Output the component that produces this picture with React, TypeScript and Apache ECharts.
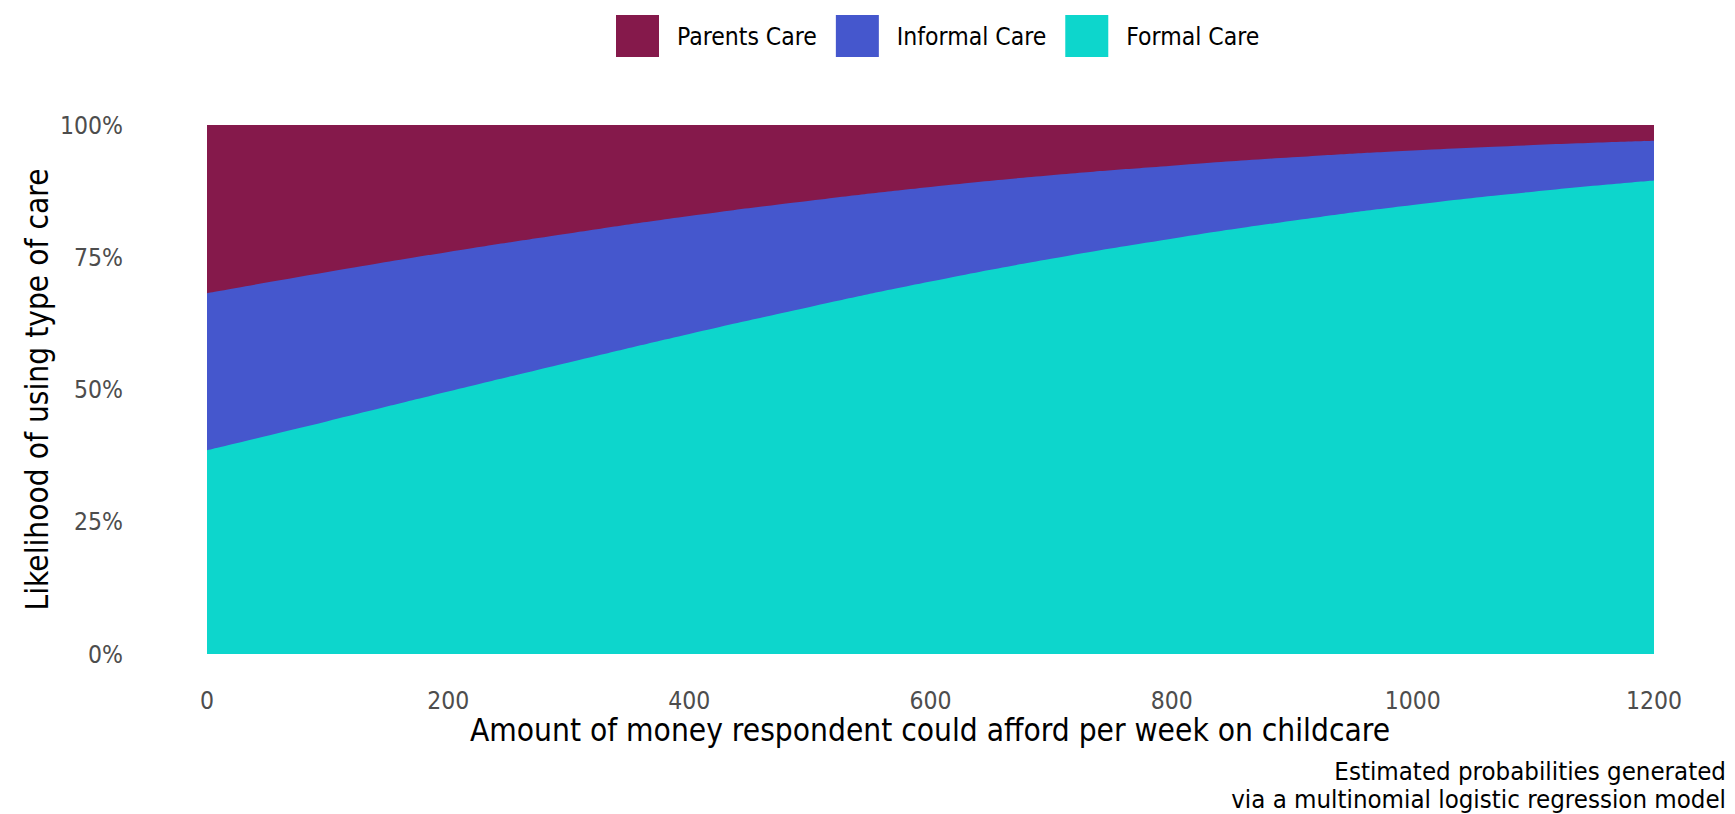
import React, { useEffect, useRef } from "react";
import * as echarts from "echarts";

const xValues = [0, 100, 200, 300, 400, 500, 600, 700, 800, 900, 1000, 1100, 1200];
const formalCare = [38.5, 44.0, 49.6, 55.1, 60.5, 65.6, 70.4, 74.7, 78.5, 81.9, 84.9, 87.4, 89.5];
const informalCare = [29.7, 28.2, 26.4, 24.4, 22.3, 20.1, 17.9, 15.8, 13.8, 12.0, 10.3, 8.8, 7.5];
const parentsCare = [31.8, 27.8, 24.0, 20.5, 17.2, 14.3, 11.7, 9.5, 7.7, 6.1, 4.8, 3.8, 3.0];
const xTicks = [0, 200, 400, 600, 800, 1000, 1200];
const yTicks = [0, 25, 50, 75, 100];

const FONT = "'DejaVu Sans Condensed', 'DejaVu Sans', sans-serif";
const COLORS = { parents: "#85194B", informal: "#4557CD", formal: "#0DD6CC" };

export default function App() {
  const ref = useRef<HTMLDivElement>(null);
  useEffect(() => {
    if (!ref.current) return;
    const chart = echarts.init(ref.current, undefined, { renderer: "svg" });
    // cumulative tops of each band (stacked from the bottom: formal, informal, parents)
    const cumFormal = formalCare.map((v) => v);
    const cumInformal = formalCare.map((v, i) => v + informalCare[i]);
    const cumParents = formalCare.map((v, i) => v + informalCare[i] + parentsCare[i]);
    const mk = (name: string, vals: number[], color: string, z: number) => ({
      name,
      type: "line",
      smooth: true,
      showSymbol: false,
      symbol: "none",
      z,
      lineStyle: { width: 0 },
      itemStyle: { color },
      areaStyle: { color, opacity: 1, origin: "start" },
      data: xValues.map((x, i) => [x, vals[i]]),
    });
    chart.setOption({
      animation: false,
      textStyle: { fontFamily: FONT },
      legend: {
        data: ["Parents Care", "Informal Care", "Formal Care"],
        left: 611,
        top: 10,
        icon: "rect",
        itemWidth: 43,
        itemHeight: 42,
        itemGap: 19,
        textStyle: { fontSize: 24.5, color: "#000", fontFamily: FONT, padding: [0, 0, 0, 13] },
      },
      grid: { left: 207, right: 81, top: 125, bottom: 160, containLabel: false },
      xAxis: {
        type: "value",
        min: xTicks[0],
        max: xTicks[xTicks.length - 1],
        interval: 200,
        axisLine: { show: false },
        axisTick: { show: false },
        splitLine: { show: false },
        axisLabel: {
          color: "#4D4D4D",
          fontSize: 24.5,
          margin: 34,
          fontFamily: FONT,
          formatter: (v: number) => String(v),
        },
      },
      yAxis: {
        type: "value",
        min: yTicks[0],
        max: yTicks[yTicks.length - 1],
        interval: 25,
        axisLine: { show: false },
        axisTick: { show: false },
        splitLine: { show: false },
        axisLabel: { color: "#4D4D4D", fontSize: 24.5, margin: 84, formatter: "{value}%", fontFamily: FONT },
      },
      graphic: [
        {
          type: "text",
          x: 930,
          y: 730,
          style: {
            text: "Amount of money respondent could afford per week on childcare",
            fontSize: 31.4,
            fontFamily: FONT,
            fill: "#000",
            align: "center",
            verticalAlign: "middle",
          },
        },
        {
          type: "text",
          x: 37,
          y: 389.5,
          rotation: Math.PI / 2,
          style: {
            text: "Likelihood of using type of care",
            fontSize: 31.4,
            fontFamily: FONT,
            fill: "#000",
            align: "center",
            verticalAlign: "middle",
          },
        },
        {
          type: "text",
          x: 1726,
          y: 771,
          style: {
            text: "Estimated probabilities generated",
            fontSize: 25.6,
            fontFamily: FONT,
            fill: "#000",
            align: "right",
            verticalAlign: "middle",
          },
        },
        {
          type: "text",
          x: 1726,
          y: 799,
          style: {
            text: "via a multinomial logistic regression model",
            fontSize: 25.6,
            fontFamily: FONT,
            fill: "#000",
            align: "right",
            verticalAlign: "middle",
          },
        },
      ],
      series: [
        mk("Parents Care", cumParents, COLORS.parents, 2),
        mk("Informal Care", cumInformal, COLORS.informal, 3),
        mk("Formal Care", cumFormal, COLORS.formal, 4),
      ],
    });
    return () => chart.dispose();
  }, []);
  return (
    <div
      ref={ref}
      style={{ position: "absolute", left: 0, top: 0, width: 1735, height: 814 }}
    />
  );
}
